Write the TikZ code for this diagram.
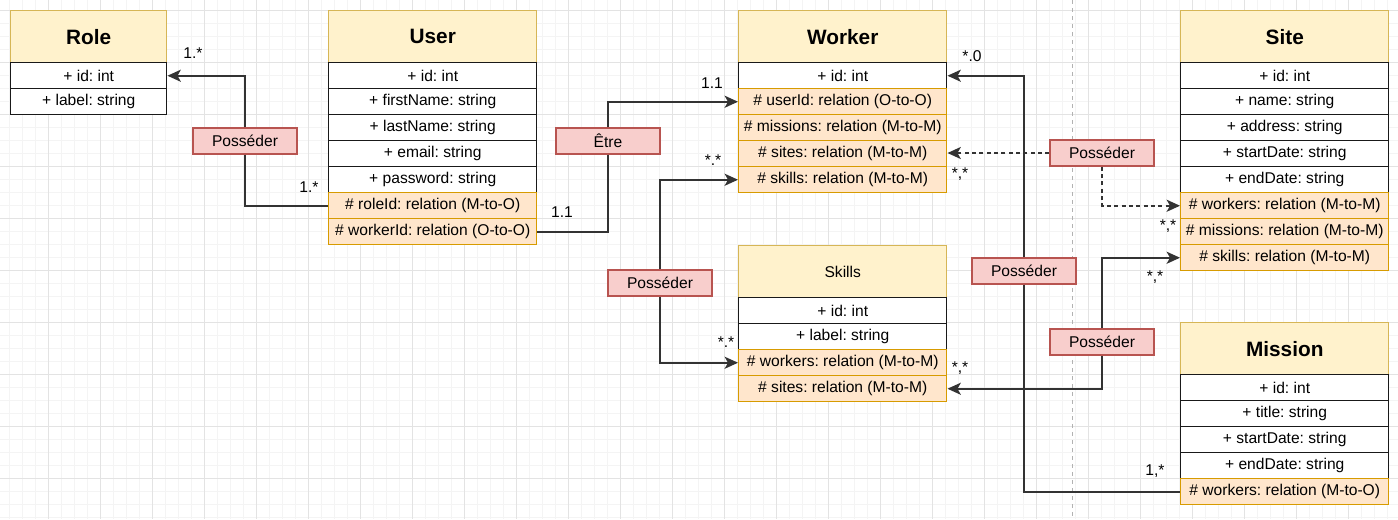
\documentclass[tikz,border=0pt]{standalone}
\usepackage{fontspec}
\setmainfont{Liberation Sans}
\usetikzlibrary{arrows.meta}
\frenchspacing

\definecolor{headfill}{HTML}{FFF2CC}
\definecolor{headline}{HTML}{D6B656}
\definecolor{relfill}{HTML}{FFE6CC}
\definecolor{relline}{HTML}{D79B00}
\definecolor{assocfill}{HTML}{F8CECC}
\definecolor{assocline}{HTML}{B85450}
\definecolor{linkgray}{HTML}{333333}
\definecolor{gridminor}{HTML}{F4F4F4}
\definecolor{gridmajor}{HTML}{E3E3E3}

\newcommand{\txtsize}{\fontsize{11.7}{14}\selectfont}
\newcommand{\ttlsize}{\fontsize{15.6}{18}\selectfont\bfseries}

\tikzset{
	head/.style={draw=headline, fill=headfill, line width=1.1pt, anchor=north west, minimum width=156pt, minimum height=39pt, inner sep=0pt, font=\ttlsize},
	attr/.style={draw=black!90, fill=white, line width=1.1pt, anchor=north west, minimum width=156pt, minimum height=19.5pt, inner sep=0pt, font=\txtsize},
	rel/.style={attr, draw=relline, fill=relfill},
	narrow/.style={minimum width=117pt},
	assoc/.style={draw=assocline, fill=assocfill, line width=1.1pt, minimum width=78pt, minimum height=19.5pt, inner sep=0pt, font=\txtsize},
	link/.style={draw=linkgray, line width=1.5pt},
	arrowed/.style={-{Stealth[length=10pt,width=9pt,inset=2.5pt]}},
	dotted link/.style={dash pattern=on 3pt off 2.5pt},
	mult/.style={anchor=base, inner sep=0pt, font=\txtsize}
}

\begin{document}
\begin{tikzpicture}[x=0.75pt, y=-0.75pt]
	%%%%% BACKGROUND %%%%%
	\fill[white] (0,0) rectangle (1398,519);
	\useasboundingbox (0,0) rectangle (1398,519);
	
	\foreach \gx in {9,22,...,1398} \draw[gridminor, line width=0.6pt] (\gx,0) -- (\gx,519);
	\foreach \gy in {10,23,...,519} \draw[gridminor, line width=0.6pt] (0,\gy) -- (1398,\gy);
	\foreach \gx in {48,100,...,1398} \draw[gridmajor, line width=0.6pt] (\gx,0) -- (\gx,519);
	\foreach \gy in {10,62,...,519} \draw[gridmajor, line width=0.6pt] (0,\gy) -- (1398,\gy);
	
	\draw[black!30, line width=0.6pt, dash pattern=on 3pt off 3pt] (1072,0) -- (1072,519);
	
	%%%%% CLASSES %%%%%
	
	% Role
	\node[head, narrow] (role) at (10,10) {Role};
	\node[attr, narrow] (roleId) at (10,62) {+ id: int};
	\node[attr, narrow] (roleLabel) at (10,88) {+ label: string};
	
	% User
	\node[head] (user) at (328,10) {User};
	\node[attr] (userId) at (328,62) {+ id: int};
	\node[attr] (userFirst) at (328,88) {+ firstName: string};
	\node[attr] (userLast) at (328,114) {+ lastName: string};
	\node[attr] (userEmail) at (328,140) {+ email: string};
	\node[attr] (userPwd) at (328,166) {+ password: string};
	\node[rel] (userRoleId) at (328,192) {\# roleId: relation (M-to-O)};
	\node[rel] (userWorkerId) at (328,218) {\# workerId: relation (O-to-O)};
	
	% Worker
	\node[head] (worker) at (738,10) {Worker};
	\node[attr] (workerId) at (738,62) {+ id: int};
	\node[rel] (workerUserId) at (738,88) {\# userId: relation (O-to-O)};
	\node[rel] (workerMissions) at (738,114) {\# missions: relation (M-to-M)};
	\node[rel] (workerSites) at (738,140) {\# sites: relation (M-to-M)};
	\node[rel] (workerSkills) at (738,166) {\# skills: relation (M-to-M)};
	
	% Site
	\node[head] (site) at (1180,10) {Site};
	\node[attr] (siteId) at (1180,62) {+ id: int};
	\node[attr] (siteName) at (1180,88) {+ name: string};
	\node[attr] (siteAddress) at (1180,114) {+ address: string};
	\node[attr] (siteStart) at (1180,140) {+ startDate: string};
	\node[attr] (siteEnd) at (1180,166) {+ endDate: string};
	\node[rel] (siteWorkers) at (1180,192) {\# workers: relation (M-to-M)};
	\node[rel] (siteMissions) at (1180,218) {\# missions: relation (M-to-M)};
	\node[rel] (siteSkills) at (1180,244) {\# skills: relation (M-to-M)};
	
	% Skills
	\node[head, font=\txtsize] (skills) at (738,245) {Skills};
	\node[attr] (skillsId) at (738,297) {+ id: int};
	\node[attr] (skillsLabel) at (738,323) {+ label: string};
	\node[rel] (skillsWorkers) at (738,349) {\# workers: relation (M-to-M)};
	\node[rel] (skillsSites) at (738,375) {\# sites: relation (M-to-M)};
	
	% Mission
	\node[head] (mission) at (1180,322) {Mission};
	\node[attr] (missionId) at (1180,374) {+ id: int};
	\node[attr] (missionTitle) at (1180,400) {+ title: string};
	\node[attr] (missionStart) at (1180,426) {+ startDate: string};
	\node[attr] (missionEnd) at (1180,452) {+ endDate: string};
	\node[rel] (missionWorkers) at (1180,478) {\# workers: relation (M-to-O)};
	
	%%%%% ASSOCIATIONS %%%%%
	\node[assoc] (posRole) at (245,141) {Posséder};
	\node[assoc] (posEtre) at (608,141) {Être};
	\node[assoc] (posSkill) at (660,283) {Posséder};
	\node[assoc] (posSite) at (1102,153) {Posséder};
	\node[assoc] (posMission) at (1024,271) {Posséder};
	\node[assoc] (posSiteSkill) at (1102,342) {Posséder};
	
	\draw[link] (posRole.south) |- (userRoleId.west);
	\draw[link, arrowed] (posRole.north) |- (roleId.east);
	
	\draw[link] (posEtre.south) |- (userWorkerId.east);
	\draw[link, arrowed] (posEtre.north) |- (workerUserId.west);
	
	\draw[link, arrowed] (posSkill.north) |- (workerSkills.west);
	\draw[link, arrowed] (posSkill.south) |- (skillsWorkers.west);
	
	\draw[link, dotted link, arrowed] (posSite.west) -- (posSite.west -| workerSites.east);
	\draw[link, dotted link, arrowed] (posSite.south) |- (siteWorkers.west);
	
	\draw[link, arrowed] (posMission.north) |- (workerId.east);
	\draw[link] (posMission.south) |- (missionWorkers.west);
	
	\draw[link, arrowed] (posSiteSkill.north) |- (siteSkills.west);
	\draw[link, arrowed] (posSiteSkill.south) |- (skillsSites.east);
	
	%%%%% MULTIPLICITIES %%%%%
	\node[mult] (mRole) at (193,58) {1.*};
	\node[mult] (mUserRole) at (309,192) {1.*};
	\node[mult] (mWorkerUser) at (712,88) {1.1};
	\node[mult] (mUserWorker) at (562,217) {1.1};
	\node[mult] (mWorkerSkills) at (713,165) {*.*};
	\node[mult] (mSkillsWorkers) at (726,347) {*.*};
	\node[mult] (mWorkerId) at (972,61) {*.0};
	\node[mult] (mWorkerSites) at (960,178) {*,*};
	\node[mult] (mSiteWorkers) at (1168,230) {*,*};
	\node[mult] (mSiteSkills) at (1155,281) {*,*};
	\node[mult] (mSkillsSites) at (960,372) {*,*};
	\node[mult] (mMission) at (1155,475) {1,*};
\end{tikzpicture}
\end{document}
